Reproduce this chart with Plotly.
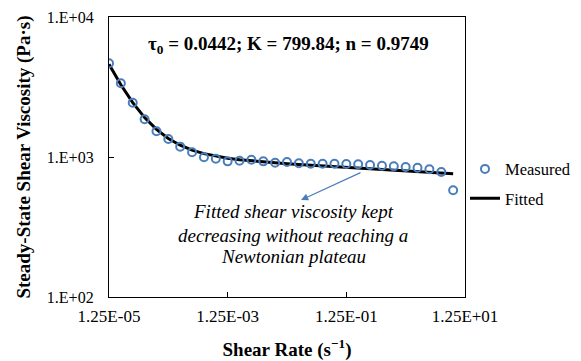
import plotly.graph_objects as go

# Shear rate (s^-1)
shear_rate = [1.25e-5, 1.98e-5, 3.14e-5, 4.98e-5, 7.89e-5,
              1.25e-4, 1.98e-4, 3.14e-4, 4.98e-4, 7.89e-4,
              1.25e-3, 1.98e-3, 3.14e-3, 4.98e-3, 7.89e-3,
              1.25e-2, 1.98e-2, 3.14e-2, 4.98e-2, 7.89e-2,
              1.25e-1, 1.98e-1, 3.14e-1, 4.98e-1, 7.89e-1,
              1.25, 1.98, 3.14, 4.98, 7.89]

# Measured steady-state shear viscosity (Pa·s)
measured = [4670, 3360, 2443, 1859, 1527, 1345, 1186, 1081, 995, 972,
            931, 941, 957, 931, 910, 921, 902, 896, 896, 896,
            891, 887, 877, 867, 859, 848, 838, 817, 781, 578]

# Fitted (Herschel-Bulkley) viscosity (Pa·s)
fitted = [4598, 3282, 2446, 1913, 1574, 1356, 1214, 1120, 1057, 1013,
          981, 957, 939, 923, 909, 896, 885, 874, 863, 853,
          843, 833, 824, 814, 805, 795, 786, 777, 768, 759]

x_tickvals = [1.25e-5, 1.25e-3, 1.25e-1, 12.5]
x_ticktext = ["1.25E-05", "1.25E-03", "1.25E-01", "1.25E+01"]
y_tickvals = [100, 1000, 10000]
y_ticktext = ["1.E+02", "1.E+03", "1.E+04"]

note_lines = ["Fitted shear viscosity kept",
              "decreasing without reaching a",
              "Newtonian plateau"]

FONT = "Liberation Serif, Times New Roman, serif"
BLUE = "#4a7ebb"

fig = go.Figure()
fig.add_trace(go.Scatter(
    x=shear_rate, y=fitted, mode="lines", name="Fitted",
    line=dict(color="black", width=3), legendrank=2, legendgroup="b"))
fig.add_trace(go.Scatter(
    x=shear_rate, y=measured, mode="markers", name="Measured",
    marker=dict(symbol="circle-open", size=8, color=BLUE,
                line=dict(color=BLUE, width=2)),
    legendrank=1, legendgroup="a"))

fig.update_layout(
    width=573, height=353,
    margin=dict(l=101, r=116, t=9, b=64, autoexpand=False),
    paper_bgcolor="white", plot_bgcolor="white",
    font=dict(family=FONT, size=13, color="black"),
    legend=dict(x=1.0, y=0.519, xanchor="left", yanchor="top",
                font=dict(size=16.5, family=FONT), tracegroupgap=5,
                bgcolor="rgba(0,0,0,0)"),
    xaxis=dict(type="log", range=[-4.9031, 1.0969],
               tickvals=x_tickvals, ticktext=x_ticktext,
               ticks="inside", ticklen=5, tickcolor="black",
               showline=True, linecolor="black", linewidth=1.3, mirror=True,
               showgrid=False, zeroline=False, ticklabelstandoff=3,
               tickfont=dict(size=17, family=FONT),
               title=dict(text="<b>Shear Rate (s<sup>−1</sup>)</b>",
                          font=dict(size=19, family=FONT), standoff=19)),
    yaxis=dict(type="log", range=[2, 4],
               tickvals=y_tickvals, ticktext=y_ticktext,
               ticks="inside", ticklen=5, tickcolor="black",
               showline=True, linecolor="black", linewidth=1.3, mirror=True,
               showgrid=False, zeroline=False, ticklabelstandoff=11,
               tickfont=dict(size=16, family=FONT)),
)

# y-axis title
fig.add_annotation(
    xref="paper", yref="paper", x=-0.240, y=0.5, xanchor="center", yanchor="middle",
    text="<b>Steady-State Shear Viscosity (Pa·s)</b>", textangle=-90,
    showarrow=False, font=dict(size=19, family=FONT, color="black"))

fig.add_annotation(
    xref="paper", yref="paper", x=0.505, y=0.9, xanchor="center", yanchor="middle",
    text="<b>τ<sub>0</sub> = 0.0442; K = 799.84; n = 0.9749</b>",
    showarrow=False, font=dict(size=19, family=FONT, color="black"))

for line_text, ypos in zip(note_lines, [0.3036, 0.2214, 0.1429]):
    fig.add_annotation(
        xref="paper", yref="paper", x=0.517, y=ypos, xanchor="center", yanchor="middle",
        text="<i>" + line_text + "</i>", showarrow=False,
        font=dict(size=19, family=FONT, color="black"))

fig.add_annotation(
    xref="x", yref="y", x=-1.667, y=2.693, axref="x", ayref="y",
    ax=-0.639, ay=2.893, text="", showarrow=True,
    arrowhead=2, arrowsize=1.2, arrowwidth=1.2, arrowcolor=BLUE)

fig.write_html("out.html")
